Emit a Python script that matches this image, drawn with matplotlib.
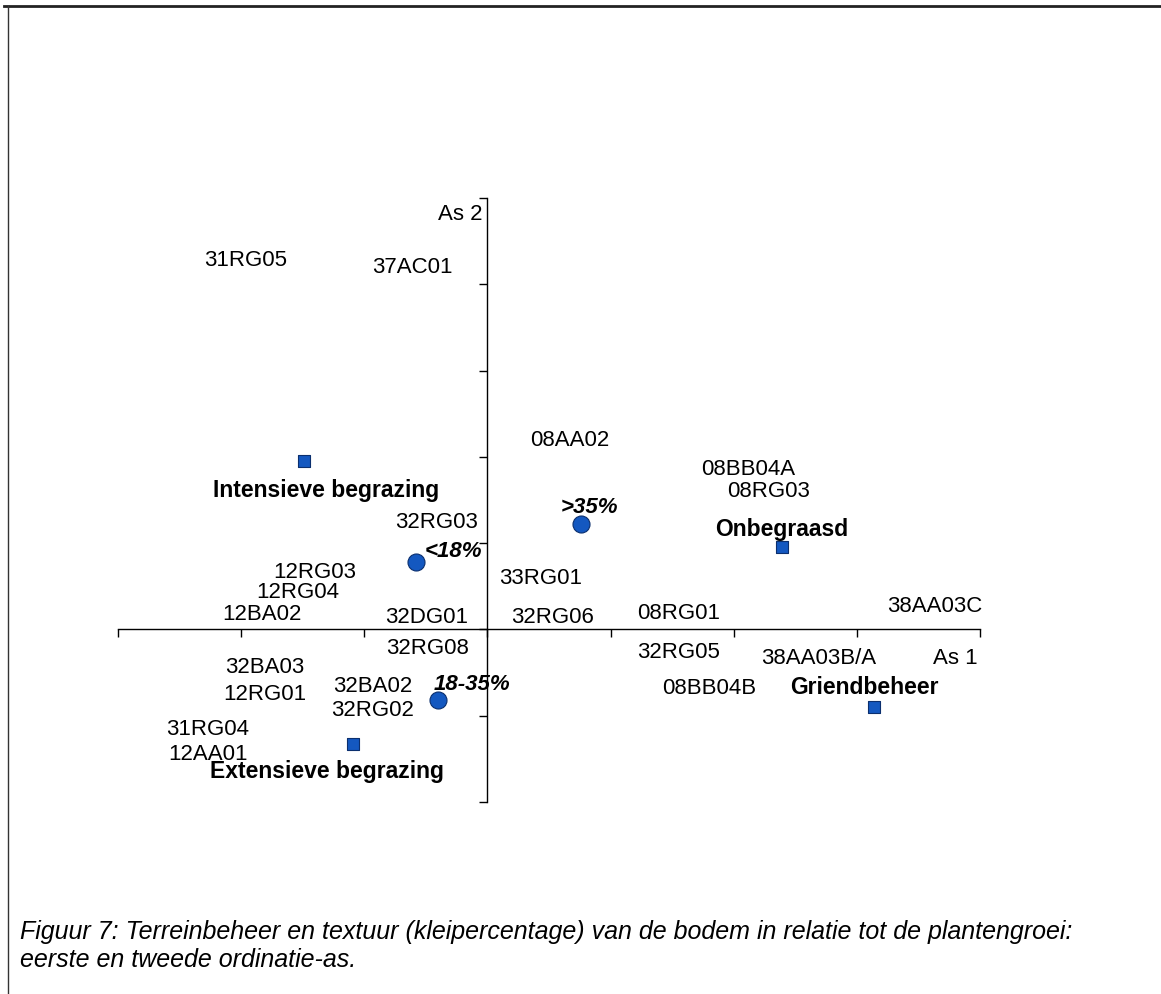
import matplotlib.pyplot as plt
import matplotlib.transforms as mtransforms
from matplotlib.lines import Line2D

# site scores on the first two ordination axes
sites = ["31RG05", "37AC01", "08AA02", "08BB04A", "08RG03", "32RG03", "12RG03",
         "12RG04", "12BA02", "32DG01", "33RG01", "32RG06", "08RG01", "38AA03C",
         "32RG08", "32RG05", "38AA03B/A", "32BA03", "12RG01", "32BA02", "32RG02",
         "31RG04", "12AA01", "08BB04B"]
site_x = [-1.96, -0.61, 0.67, 2.12, 2.28, -0.41, -1.40, -1.54, -1.83, -0.49, 0.43,
          0.53, 1.55, 3.63, -0.49, 1.55, 2.69, -1.81, -1.81, -0.93, -0.93, -2.27,
          -2.27, 1.80]
site_y = [4.33, 4.25, 2.25, 1.91, 1.65, 1.30, 0.72, 0.48, 0.23, 0.20, 0.65, 0.19,
          0.24, 0.32, -0.16, -0.21, -0.28, -0.39, -0.70, -0.60, -0.88, -1.10,
          -1.39, -0.63]

# terrain management (squares)
beheer = ["Intensieve begrazing", "Onbegraasd", "Griendbeheer", "Extensieve begrazing"]
beheer_x = [-1.49, 2.39, 3.14, -1.09]
beheer_y = [1.95, 0.96, -0.90, -1.33]

# clay percentage classes (circles)
klei = ["<18%", ">35%", "18-35%"]
klei_x = [-0.58, 0.76, -0.40]
klei_y = [0.78, 1.22, -0.82]

# label offsets in points
beheer_off = [(16, -21), (0, 12), (-7, 14), (-19, -20)]
klei_off = [(27, 8), (6, 12), (24, 11)]

caption = ["Figuur 7: Terreinbeheer en textuur (kleipercentage) van de bodem in relatie tot de plantengroei:",
           "eerste en tweede ordinatie-as."]

plt.rcParams['font.family'] = ['Liberation Sans', 'DejaVu Sans']

fig = plt.figure(figsize=(11.61, 9.94), dpi=100)
ax = fig.add_axes([118 / 1161, 1 - 802 / 994, 862 / 1161, 604 / 994])
ax.set_xlim(-3, 4)
ax.set_ylim(-2, 5)
ax.patch.set_alpha(0)

# axes crossing at the origin
for side in ["top", "right"]:
    ax.spines[side].set_visible(False)
ax.spines["left"].set_position(("data", 0))
ax.spines["bottom"].set_position(("data", 0))
ax.spines["left"].set_linewidth(1.0)
ax.spines["bottom"].set_linewidth(1.0)
ax.set_xticks(range(-3, 5))
ax.set_yticks(range(-2, 6))
ax.tick_params(direction="out", length=6, width=1.0, labelbottom=False, labelleft=False)

# text sits a little lower than its centre point
txt_trans = mtransforms.offset_copy(ax.transData, fig=fig, y=-3.5, units="points")

for name, x, y in zip(sites, site_x, site_y):
    ax.text(x, y, name, fontsize=16, ha="center", va="center", clip_on=False,
            transform=txt_trans)

ax.scatter(beheer_x, beheer_y, marker="s", s=70, color="#1458c0", edgecolor="#0b2f6e",
           linewidth=0.8, zorder=3)
for name, x, y, off in zip(beheer, beheer_x, beheer_y, beheer_off):
    ax.annotate(name, (x, y), xytext=off, textcoords="offset points", fontsize=16.5,
                fontweight="bold", ha="center", va="center")

ax.scatter(klei_x, klei_y, marker="o", s=150, color="#1458c0", edgecolor="#0b2f6e",
           linewidth=0.8, zorder=3)
for name, x, y, off in zip(klei, klei_x, klei_y, klei_off):
    ax.annotate(name, (x, y), xytext=off, textcoords="offset points", fontsize=16,
                fontweight="bold", fontstyle="italic", ha="center", va="center")

ax.text(-0.22, 4.86, "As 2", fontsize=16, ha="center", va="center", transform=txt_trans)
ax.text(3.80, -0.28, "As 1", fontsize=16, ha="center", va="center", transform=txt_trans)

# frame of the figure (top and left edge)
fig.add_artist(Line2D([4 / 1161, 1], [1 - 6 / 994, 1 - 6 / 994], color="#222222", lw=2))
fig.add_artist(Line2D([8 / 1161, 8 / 1161], [0, 1 - 6 / 994], color="#333333", lw=1))

for i, line in enumerate(caption):
    fig.text(20 / 1161, 1 - (932 + 28 * i) / 994, line, fontsize=18, fontstyle="italic",
             ha="left", va="center")

fig.savefig("out.png", dpi=100)
